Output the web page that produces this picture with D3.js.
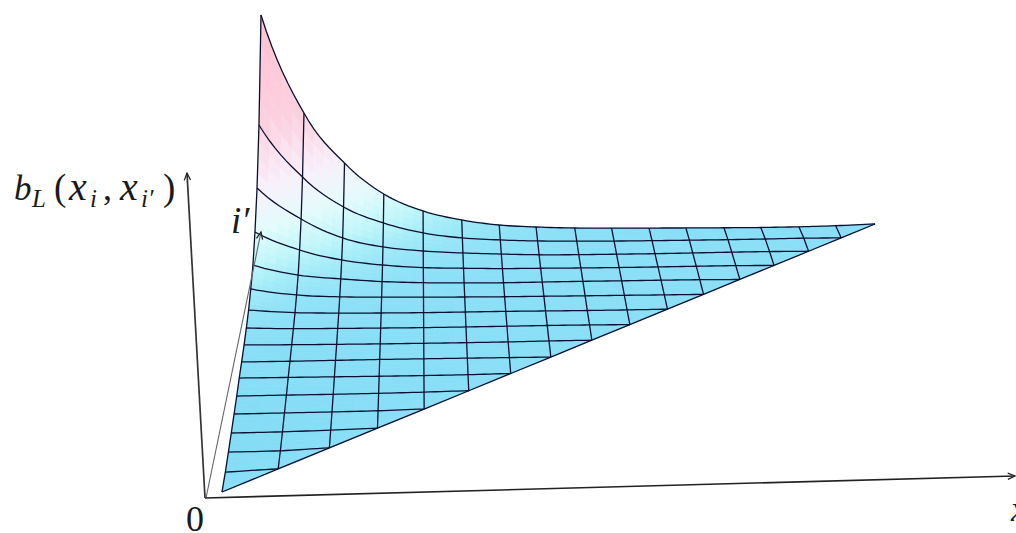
<!DOCTYPE html>
<html>
<head>
<meta charset="utf-8">
<script src="https://cdn.jsdelivr.net/npm/d3@7"></script>
<style>
  html, body { margin: 0; padding: 0; background: #fff; }
  svg { display: block; }
  text { font-family: "Liberation Serif", "DejaVu Serif", serif; fill: #1a1a1a; }
</style>
</head>
<body>
<svg id="svg"></svg>
<script>
var w = 1016;
var h = 533;

// grid positions of x_i (same list is used for x_i')
var xi = [0, .07, .136, .2, .264, .327, .388, .448, .511, .571, .632, .692, .754, .814, .876, .936, 1];

// surface heights, one list per i', starting at i = 0 and ending on the diagonal
var bRows = [
    [3],
    [.6, 3],
    [.2, .8, 3],
    [.1, .6, 1.7, 3],
    [.5, .9, 1.3, 1.9, 3],
    [.7, 1, 1.2, 1.6, 2.2, 3],
    [2, 2, 2, 2, 2.1, 2.4, 3],
    [2.1, 2.2, 2.5, 2.8, 2.9, 3, 3, 3],
    [2.8, 2.4, 2.2, 2.1, 2.1, 2.2, 2.4, 2.8, 3],
    [4.6, 3.3, 3, 2.8, 2.7, 2.8, 3, 3.2, 3.2, 3],
    [7.6, 4.4, 3.4, 2.9, 2.7, 2.8, 2.9, 2.8, 2.7, 2.8, 3],
    [14.3, 7.7, 5.3, 4.4, 3.9, 3.5, 3.2, 3.2, 3.1, 3.1, 3, 3],
    [23.8, 13.2, 8.8, 5.6, 3.9, 3.1, 2.8, 3, 3.2, 3.2, 3.3, 3.3, 3],
    [43.2, 24.6, 14.1, 8.5, 5.4, 4.2, 3.4, 3.2, 3, 2.9, 3, 3.2, 3.3, 3],
    [73.5, 41.9, 22.4, 12.9, 8.3, 5.8, 4.2, 3, 2.6, 2.6, 2.6, 2.8, 3.1, 3.2, 3],
    [123.5, 70.9, 40.4, 23.9, 13.4, 7.9, 5.4, 3.9, 3.2, 2.8, 2.7, 2.7, 2.7, 2.9, 3.2, 3],
    [220, 121.4, 70.9, 39.4, 21.9, 12.4, 6.9, 4.4, 2.9, 2.3, 1.9, 1.5, 1.2, 1, 1.2, 1.8, 3]
];

var colorStops = [0, 3, 14, 24, 44, 74, 120, 220];
var colorRange = ["#84dcf5", "#8adff7", "#a4ecf8", "#c0f6fa", "#e4fbfc", "#f8f0fa", "#fcd2e0", "#ffc0d4"];

// perspective of the base plane
var depth = .8;
var nSub = 4;

var svg = d3.select("#svg").attr("width", w).attr("height", h);

var edgeX = d3.scaleLinear().domain([0, 1]).range([222, 261]);
var edgeY = d3.scaleLinear().domain([0, 1]).range([495, 235]);
var widthX = d3.scaleLinear().domain([0, 1]).range([0, 614]);
var widthY = d3.scaleLinear().domain([0, 1]).range([0, -8]);
var heightY = d3.scaleLinear().domain([0, 220]).range([0, -220]);
var color = d3.scaleLinear().domain(colorStops).range(colorRange).clamp(true);

var project = function(u, v, b)
{
    var d = depth * (1 - v) + v;
    var lam = v / d;
    return [
        edgeX(lam) + widthX(u / d),
        edgeY(lam) + widthY(u / d) + heightY(b),
        b
    ];
}

var lerp = function(a, b, t) { return a + (b - a) * t }

// value along one row of the surface, smooth through the read values
var rowValue = function(r, cf)
{
    var row = bRows[r];
    var last = row.length - 1;
    if(cf >= last) return row[last];
    var i = Math.floor(cf);
    var t = cf - i;
    var p1 = row[i];
    var p2 = row[i + 1];
    var p0 = i > 0 ? row[i - 1] : p1 * p1 / p2;
    var p3 = i + 2 <= last ? row[i + 2] : p2;
    return .5 * (2 * p1 + (p2 - p0) * t + (2 * p0 - 5 * p1 + 4 * p2 - p3) * t * t + (3 * p1 - p0 - 3 * p2 + p3) * t * t * t);
}

var surfacePoint = function(cf, rf)
{
    var r0 = Math.min(Math.floor(rf), xi.length - 2);
    var t = rf - r0;
    var c0 = Math.min(Math.floor(cf), xi.length - 2);
    var u = lerp(xi[c0], xi[c0 + 1], cf - c0);
    var v = lerp(xi[r0], xi[r0 + 1], t);
    var b = lerp(rowValue(r0, cf), rowValue(r0 + 1, cf), t);
    return project(u, v, b);
}

// cells cut in small pieces so the colour runs smoothly with the height
var pieces = [];
d3.range(16).forEach(function(r) {
    d3.range(r + 1).forEach(function(c) {
        d3.range(nSub).forEach(function(a) {
            d3.range(nSub).forEach(function(e) {
                var s0 = a / nSub, s1 = (a + 1) / nSub, t0 = e / nSub, t1 = (e + 1) / nSub;
                var corner;
                if(c < r)
                    corner = function(s, t) { return surfacePoint(c + s, r + t) };
                else
                    corner = function(s, t) { return surfacePoint(c + s, c + s + t * (1 - s)) };
                pieces.push([corner(s0, t0), corner(s1, t0), corner(s1, t1), corner(s0, t1)]);
            })
        })
    })
})

var poly = d3.line().x(function(d) { return d[0] }).y(function(d) { return d[1] });

var pieceColor = function(d) { return color(d3.mean(d, function(p) { return p[2] })) };

svg.append("g").selectAll("path")
    .data(pieces)
    .enter().append("path")
    .attr("d", function(d) { return poly(d) + "Z" })
    .attr("fill", pieceColor)
    .attr("stroke", pieceColor)
    .attr("stroke-width", .7);

// mesh
var rowLines = d3.range(1, 17).map(function(r) {
    return d3.range(0, r * 8 + 1).map(function(k) { return surfacePoint(k / 8, r) });
});
var colLines = d3.range(0, 16).map(function(c) {
    return d3.range(c * 4, 16 * 4 + 1).map(function(k) { return surfacePoint(c, k / 4) });
});
var diagonal = d3.range(17).map(function(k) { return surfacePoint(k, k) });

svg.append("g")
    .attr("fill", "none")
    .attr("stroke", "#0c1030")
    .attr("stroke-width", 1.3)
    .selectAll("path")
    .data(rowLines.concat(colLines, [diagonal]))
    .enter().append("path")
    .attr("d", poly);

// axes
var defs = svg.append("defs");
defs.append("marker")
    .attr("id", "arrow")
    .attr("viewBox", "0 0 10 10")
    .attr("refX", 9)
    .attr("refY", 5)
    .attr("markerUnits", "userSpaceOnUse")
    .attr("markerWidth", 9)
    .attr("markerHeight", 9)
    .attr("orient", "auto")
    .append("path")
    .attr("d", "M1,1.5L9,5L1,8.5")
    .attr("fill", "none")
    .attr("stroke", "#222")
    .attr("stroke-width", 1.4);

var axes = [
    {a: [205, 498], b: [187, 173], col: "#333", sw: 1.7},
    {a: [206, 498], b: [261, 232], col: "#666", sw: 1.1},
    {a: [205, 498], b: [1015, 476], col: "#222", sw: 1.6}
];

svg.append("g").selectAll("line")
    .data(axes)
    .enter().append("line")
    .attr("x1", function(d) { return d.a[0] })
    .attr("y1", function(d) { return d.a[1] })
    .attr("x2", function(d) { return d.b[0] })
    .attr("y2", function(d) { return d.b[1] })
    .attr("stroke", function(d) { return d.col })
    .attr("stroke-width", function(d) { return d.sw })
    .attr("marker-end", "url(#arrow)");

// labels
var label = function(y, parts)
{
    var t = svg.append("text").attr("y", y);
    parts.forEach(function(p) {
        t.append("tspan")
            .attr("x", p.x)
            .attr("y", y + (p.sub ? 7 : 0))
            .attr("font-size", p.s)
            .attr("font-style", p.i ? "italic" : "normal")
            .text(p.t);
    })
}

label(200, [
    {t: "b", x: 14, s: 35, i: 1},
    {t: "L", x: 32, s: 25, i: 1, sub: 1},
    {t: "(", x: 54, s: 37},
    {t: "x", x: 69, s: 40, i: 1},
    {t: "i", x: 90, s: 25, i: 1, sub: 1},
    {t: ",", x: 103, s: 36},
    {t: "x", x: 120, s: 40, i: 1},
    {t: "i′", x: 141, s: 25, i: 1, sub: 1},
    {t: ")", x: 163, s: 37}
]);
label(233, [{t: "i′", x: 231, s: 37, i: 1}]);
label(531, [{t: "0", x: 186, s: 36}]);
label(521, [{t: "x", x: 1011, s: 35, i: 1}]);
</script>
</body>
</html>
